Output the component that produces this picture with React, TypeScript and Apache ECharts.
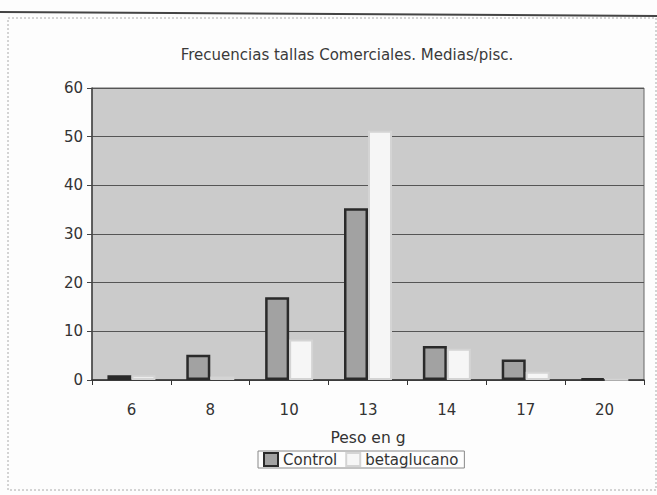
import React, { useEffect, useRef } from "react";
import * as echarts from "echarts";

const categories = ["6", "8", "10", "13", "14", "17", "20"];
const controlValues = [1, 5.2, 17, 35.3, 7, 4.2, 0.3];
const betaValues = [1, 0.7, 8.3, 51.2, 6.4, 1.7, 0.1];
const seriesNames = ["Control", "betaglucano"];
const titleText = "Frecuencias tallas Comerciales. Medias/pisc.";
const xAxisName = "Peso en g";

export default function App() {
  const ref = useRef<HTMLDivElement>(null);
  useEffect(() => {
    if (!ref.current) return;
    const chart = echarts.init(ref.current, null, { renderer: "svg" });
    const font = "DejaVu Sans";
    chart.setOption({
      animation: false,
      backgroundColor: "#fdfdfd",
      textStyle: { fontFamily: font },
      title: {
        text: titleText,
        left: 342,
        top: 42,
        textAlign: "center",
        textStyle: { fontSize: 15, fontWeight: "normal", color: "#3a3a3a", fontFamily: font },
      },
      graphic: [
        {
          type: "rect",
          shape: { x: 8, y: 18, width: 648, height: 472 },
          style: { fill: "none", stroke: "#aaa", lineWidth: 1, lineDash: [2, 2] },
          silent: true,
        },
        {
          type: "line",
          shape: { x1: 0, y1: 12, x2: 657, y2: 16 },
          style: { stroke: "#444", lineWidth: 2 },
          silent: true,
        },
      ],
      legend: {
        data: seriesNames,
        left: 258,
        top: 451,
        itemWidth: 14,
        itemHeight: 13,
        itemGap: 8,
        padding: [1, 6, 1, 5],
        borderColor: "#888",
        borderWidth: 1,
        textStyle: { fontSize: 15, color: "#333", fontFamily: font },
        icon: "rect",
      },
      grid: { left: 92, right: 13, top: 88, bottom: 115, backgroundColor: "#cbcbcb", show: true, borderColor: "#666", borderWidth: 1 },
      xAxis: {
        type: "category",
        data: categories,
        name: xAxisName,
        nameLocation: "middle",
        nameGap: 50,
        nameTextStyle: { fontSize: 15.5, color: "#333", fontFamily: font },
        axisLine: { lineStyle: { color: "#333", width: 1.5 } },
        axisTick: { show: true, length: 5, lineStyle: { color: "#333" } },
        axisLabel: { fontSize: 15, color: "#333", margin: 22, fontFamily: font },
      },
      yAxis: {
        type: "value",
        min: 0,
        max: 60,
        interval: 10,
        axisLine: { show: true, lineStyle: { color: "#444", width: 1.5 } },
        axisTick: { show: true, length: 5, lineStyle: { color: "#444" } },
        axisLabel: { fontSize: 15, color: "#333", margin: 9, fontFamily: font },
        splitLine: { lineStyle: { color: "#555", width: 1 } },
      },
      series: [
        {
          name: seriesNames[0],
          type: "bar",
          data: controlValues,
          barWidth: 24,
          barGap: "0%",
          itemStyle: { color: "#a2a2a2", borderColor: "#2a2a2a", borderWidth: 2.5 },
        },
        {
          name: seriesNames[1],
          type: "bar",
          data: betaValues,
          barWidth: 24,
          barGap: "0%",
          itemStyle: { color: "#f6f6f6", borderColor: "#d4d4d4", borderWidth: 2 },
        },
      ],
    });
    return () => chart.dispose();
  }, []);
  return <div ref={ref} style={{ position: "fixed", left: 0, top: 0, width: 657, height: 495 }} />;
}
